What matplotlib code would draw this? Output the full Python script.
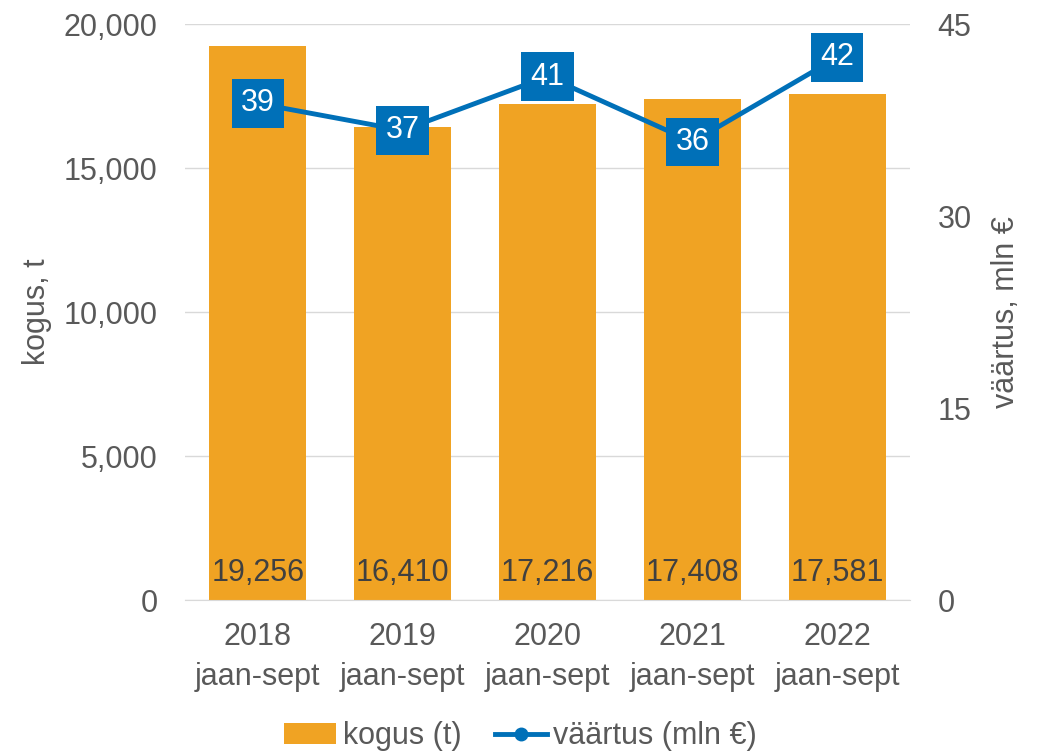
import matplotlib
matplotlib.use("Agg")
import matplotlib.pyplot as plt
from matplotlib.lines import Line2D
from matplotlib.patches import Patch

categories = ["2018\njaan-sept", "2019\njaan-sept", "2020\njaan-sept", "2021\njaan-sept", "2022\njaan-sept"]
kogus = [19256, 16410, 17216, 17408, 17581]
vaartus = [38.8, 36.7, 40.9, 35.8, 42.4]
left_ticks = [0, 5000, 10000, 15000, 20000]
right_ticks = [0, 15, 30, 45]

bar_color = "#F0A323"
line_color = "#0070B8"
tick_color = "#595959"
fs = 22

plt.rcParams['font.family'] = ['Liberation Sans', 'DejaVu Sans']

fig = plt.figure(figsize=(10.41, 7.53), dpi=100)
ax = fig.add_axes([0.178, 0.203, 0.696, 0.765])
x = list(range(len(categories)))
ax.bar(x, kogus, width=0.67, color=bar_color, zorder=2)
ax.set_xlim(-0.5, 4.5)
ax.set_ylim(0, 20000)
ax.set_yticks(left_ticks)
ax.set_yticklabels([f"{v:,}" for v in left_ticks])
ax.set_xticks(x)
ax.set_xticklabels(categories, linespacing=1.4)
ax.yaxis.grid(True, color="#D9D9D9", linewidth=1, zorder=0)
ax.set_axisbelow(True)
for s in ["top", "right", "left"]:
    ax.spines[s].set_visible(False)
ax.spines["bottom"].set_color("#D9D9D9")
ax.tick_params(axis="both", length=0, labelsize=fs, colors=tick_color)
ax.tick_params(axis="y", pad=20)
ax.tick_params(axis="x", pad=16)
ax.set_ylabel("kogus, t", fontsize=fs, color=tick_color, labelpad=8)

for i, v in enumerate(kogus):
    ax.annotate(f"{v:,}", (i, 0), xytext=(0, 9), textcoords="offset points",
                ha="center", va="bottom", fontsize=fs, color="#404040", zorder=3)

ax2 = ax.twinx()
ax2.set_ylim(0, 45)
ax2.set_yticks(right_ticks)
ax2.plot(x, vaartus, color=line_color, linewidth=3.5, zorder=4)
for s in ["top", "right", "left", "bottom"]:
    ax2.spines[s].set_visible(False)
ax2.tick_params(axis="y", length=0, labelsize=fs, colors=tick_color, pad=20)
ax2.set_ylabel("väärtus, mln €", fontsize=fs, color=tick_color, labelpad=14)
for i, v in enumerate(vaartus):
    ax2.text(i, v, f"{round(v):d}", ha="center", va="center", fontsize=fs, color="white",
             zorder=5, bbox=dict(boxstyle="square,pad=0.3", fc=line_color, ec="none"))

handles = [Patch(facecolor=bar_color, edgecolor="none"),
           Line2D([0], [0], color=line_color, linewidth=3.5, marker="o", markersize=9)]
fig.legend(handles, ["kogus (t)", "väärtus (mln €)"], loc="center", bbox_to_anchor=(0.5, 0.022),
           ncol=2, frameon=False, fontsize=fs, labelcolor=tick_color, handlelength=1.7,
           handletextpad=0.2, columnspacing=1.1)

fig.savefig("out.png", dpi=100)
